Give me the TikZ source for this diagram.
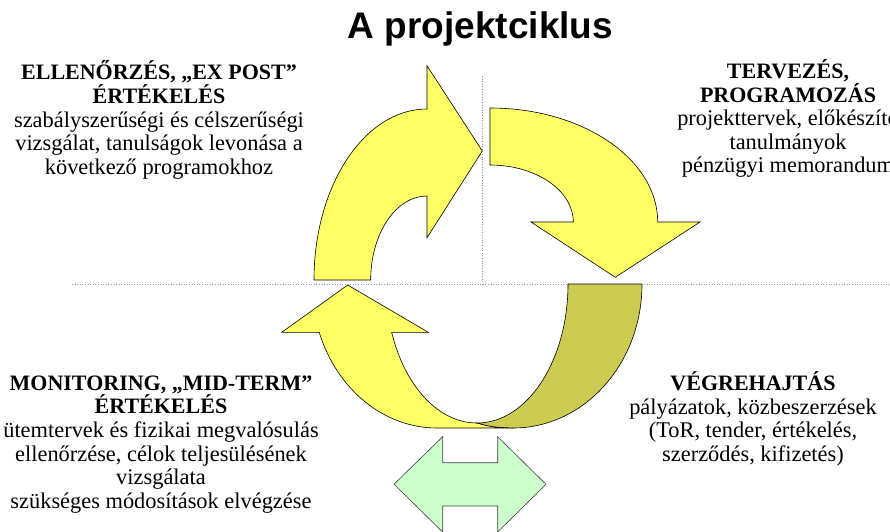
\documentclass[tikz,border=0pt]{standalone}
\usepackage{fontspec}
\setmainfont{Liberation Serif}
\newfontfamily\bodyfont{Liberation Serif}
\newfontfamily\titlefont{Liberation Sans}
\newcommand\blockhead[1]{{\fontsize{22}{23.6}\selectfont\bfseries #1}}
\definecolor{arrowyellow}{HTML}{FFFF66}
\definecolor{arrowolive}{HTML}{CCCC52}
\definecolor{arrowgreen}{HTML}{CCFFCC}
\begin{document}
\begin{tikzpicture}[x=1pt,y=-1pt,
  outline/.style={draw=black, line width=0.6pt, line join=miter},
  guide/.style={draw=gray!80, line width=0.6pt, dotted},
  block/.style={font=\bodyfont\fontsize{22.4}{23.6}\selectfont, align=center, inner sep=0pt, anchor=north}]
\useasboundingbox (0,0) rectangle (890,531);
\clip (0,0) rectangle (890,531);
% guide lines
\coordinate (hl) at (72,284.5);
\coordinate (hr) at (890,284.5);
\coordinate (vt) at (482.3,76);
\coordinate (vb) at (482.3,284.5);
\draw[guide] (hl) -- (hr);
\draw[guide] (vt) -- (vb);
% upper-left curved arrow (pointing right)
\draw[outline, fill=arrowyellow] (314,280) arc[start angle=180, end angle=270, x radius=113, y radius=171]
  -- (427,65.7) -- (482.3,151) -- (427,237.7) -- (427,196)
  arc[start angle=270, end angle=180, x radius=56.3, y radius=84] -- cycle;
% upper-right curved arrow (pointing down)
\draw[outline, fill=arrowyellow] (490,108) arc[start angle=270, end angle=360, x radius=167.7, y radius=114]
  -- (700,222) -- (615.3,277.3) -- (531,222) -- (573.3,222)
  arc[start angle=360, end angle=270, x radius=83.3, y radius=57] -- cycle;
% lower curved arrow (pointing up), yellow front part
\draw[outline, fill=arrowyellow] (319.2,332.3) arc[start angle=160.4, end angle=90, x radius=125, y radius=144]
  -- (513,428) .. controls (492,427) .. (477,423)
  arc[start angle=90, end angle=159.67, x radius=91, y radius=139]
  -- (428.3,332.3) -- (347.7,285) -- (281.7,332.3) -- cycle;
% lower curved arrow, olive back part
\draw[outline, fill=arrowolive] (477,423) .. controls (492,427) .. (513,428)
  arc[start angle=90, end angle=0, x radius=129, y radius=144]
  -- (568,284) arc[start angle=0, end angle=90, x radius=91, y radius=139] -- cycle;
% green double arrow
\draw[outline, fill=arrowgreen, draw=black!75] (394,484.3) -- (442.7,436.7) -- (442.7,462.7) -- (497.7,462.7)
  -- (497.7,436.7) -- (546,484.3) -- (497.7,532) -- (497.7,506) -- (442.7,506) -- (442.7,532) -- cycle;
% title
\node[font=\titlefont\bfseries\fontsize{37}{42}\selectfont, anchor=base, inner sep=0pt] (title) at (480.5,38) {A projektciklus};
% text blocks
\node[block] (expost) at (159,60.5) {\blockhead{ELLENŐRZÉS, „EX POST”}\\\blockhead{ÉRTÉKELÉS}\\szabályszerűségi és célszerűségi\\vizsgálat, tanulságok levonása a\\következő programokhoz};
\node[block] (terv) at (788,59.5) {\blockhead{TERVEZÉS,}\\\blockhead{PROGRAMOZÁS}\\projekttervek, előkészítő\\tanulmányok\\pénzügyi memorandum};
\node[block] (monitor) at (161,375.5) {\blockhead{MONITORING, „MID-TERM”}\\\blockhead{ÉRTÉKELÉS}\\ütemtervek és fizikai megvalósulás\\ellenőrzése, célok teljesülésének\\vizsgálata\\szükséges módosítások elvégzése};
\node[block] (vegre) at (753,371.5) {\blockhead{VÉGREHAJTÁS}\\pályázatok, közbeszerzések\\(ToR, tender, értékelés,\\szerződés, kifizetés)};
\end{tikzpicture}
\end{document}
